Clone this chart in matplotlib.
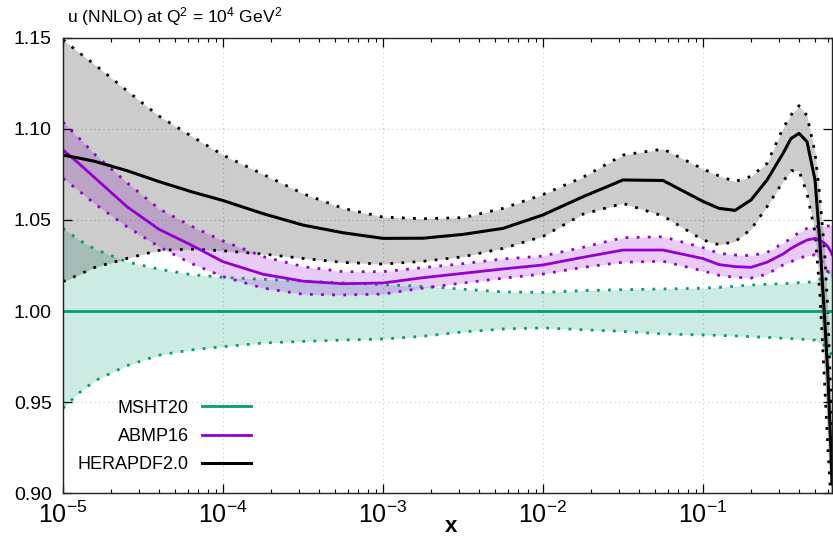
import matplotlib
matplotlib.use("Agg")
import matplotlib.pyplot as plt
import numpy as np

plt.rcParams['font.family'] = ['Liberation Sans', 'DejaVu Sans']
plt.rcParams['mathtext.fontset'] = 'custom'
plt.rcParams['mathtext.rm'] = 'Liberation Sans'
plt.rcParams['mathtext.it'] = 'Liberation Sans:italic'
plt.rcParams['axes.unicode_minus'] = False

# log10(x) sample points
log_x = [-5.0, -4.9, -4.8, -4.6, -4.4, -4.2, -4.0, -3.75, -3.5, -3.25, -3.0,
         -2.75, -2.5, -2.25, -2.0, -1.75, -1.5, -1.25, -1.0, -0.9, -0.8,
         -0.7, -0.6, -0.5, -0.45, -0.4, -0.35, -0.3, -0.27, -0.24, -0.22,
         -0.2, -0.194]

# MSHT20 (reference, ratio = 1)
msht = [1.0, 1.0, 1.0, 1.0, 1.0, 1.0, 1.0, 1.0, 1.0, 1.0, 1.0,
        1.0, 1.0, 1.0, 1.0, 1.0, 1.0, 1.0, 1.0, 1.0, 1.0,
        1.0, 1.0, 1.0, 1.0, 1.0, 1.0, 1.0, 1.0, 1.0, 1.0,
        1.0, 1.0]
msht_hi = [1.0454, 1.039, 1.034, 1.027, 1.023, 1.020, 1.0185, 1.0174, 1.0165,
           1.0155, 1.0145, 1.0135, 1.012, 1.0105, 1.0102, 1.0112, 1.0117,
           1.0121, 1.0125, 1.013, 1.0136, 1.0143, 1.0147, 1.015, 1.0153,
           1.0156, 1.0158, 1.0161, 1.0175, 1.019, 1.021, 1.023, 1.024]
msht_lo = [0.9465, 0.955, 0.9617, 0.970, 0.9757, 0.9786, 0.9804, 0.9824,
           0.9833, 0.984, 0.9846, 0.9861, 0.9885, 0.9901, 0.9907, 0.9897,
           0.9888, 0.9874, 0.9868, 0.9866, 0.9863, 0.9859, 0.9855, 0.985,
           0.9848, 0.9846, 0.9843, 0.984, 0.9825, 0.981, 0.979, 0.9765, 0.975]

# ABMP16
abmp = [1.0885, 1.081, 1.0731, 1.0573, 1.0449, 1.0363, 1.0271, 1.0202, 1.0164,
        1.015, 1.0154, 1.0183, 1.0207, 1.0231, 1.0253, 1.0295, 1.0335, 1.0335,
        1.0288, 1.0255, 1.0244, 1.024, 1.0268, 1.0313, 1.0344, 1.0368, 1.039,
        1.0399, 1.039, 1.0372, 1.0353, 1.0326, 1.031]
abmp_hi = [1.1038, 1.095, 1.0859, 1.0705, 1.0562, 1.0467, 1.0385, 1.0299,
           1.0244, 1.0216, 1.0216, 1.0238, 1.026, 1.0286, 1.0302, 1.035,
           1.0403, 1.0408, 1.0348, 1.0317, 1.0308, 1.0304, 1.0322, 1.0372,
           1.0399, 1.0432, 1.0454, 1.0463, 1.0467, 1.0467, 1.0467, 1.0467,
           1.0467]
abmp_lo = [1.0729, 1.066, 1.0588, 1.0463, 1.0353, 1.0262, 1.0189, 1.0126,
           1.0092, 1.0088, 1.0093, 1.0126, 1.0154, 1.018, 1.0203, 1.024,
           1.0268, 1.0273, 1.022, 1.0196, 1.0185, 1.0181, 1.0202, 1.0253,
           1.0271, 1.0289, 1.0304, 1.0308, 1.029, 1.0243, 1.0216, 1.018, 1.017]

# HERAPDF2.0
hera = [1.0857, 1.084, 1.0822, 1.0771, 1.0711, 1.0656, 1.0607, 1.0535, 1.0472,
        1.043, 1.0399, 1.040, 1.0421, 1.0454, 1.0528, 1.0628, 1.072, 1.0717,
        1.0602, 1.0564, 1.0553, 1.061, 1.072, 1.0866, 1.0948, 1.0976, 1.093,
        1.072, 1.038, 0.996, 0.965, 0.922, 0.905]
hera_hi = [1.149, 1.142, 1.1353, 1.121, 1.1071, 1.0962, 1.0857, 1.0751, 1.0645,
           1.0564, 1.0516, 1.0507, 1.0513, 1.0564, 1.064, 1.0735, 1.0857,
           1.089, 1.078, 1.0742, 1.0711, 1.074, 1.0811, 1.1004, 1.1077, 1.1128,
           1.1073, 1.087, 1.063, 1.032, 1.000, 0.950, 0.935]
hera_lo = [1.0161, 1.020, 1.024, 1.0289, 1.0333, 1.034, 1.0331, 1.0313, 1.0289,
           1.0267, 1.0258, 1.0273, 1.0298, 1.0344, 1.041, 1.0532, 1.0591,
           1.0522, 1.039, 1.0364, 1.0381, 1.0449, 1.0573, 1.0711, 1.0771,
           1.0769, 1.0647, 1.043, 1.010, 0.960, 0.925, 0.895, 0.875]

x = 10.0 ** np.array(log_x)

green = '#009e73'
purple = '#9400d3'
dots = (0, (1, 3))

fig = plt.figure(figsize=(8.33, 5.39), dpi=100)
ax = fig.add_axes([63 / 833, 46 / 539, 769 / 833, 455 / 539])

# bands
ax.fill_between(x, msht_lo, msht_hi, color=green, alpha=0.2, lw=0)
ax.fill_between(x, abmp_lo, abmp_hi, color=purple, alpha=0.2, lw=0)
ax.fill_between(x, hera_lo, hera_hi, color='black', alpha=0.2, lw=0)

# band edges
for lo, hi, c in [(msht_lo, msht_hi, green), (abmp_lo, abmp_hi, purple),
                  (hera_lo, hera_hi, 'black')]:
    ax.plot(x, lo, color=c, lw=2, ls=dots)
    ax.plot(x, hi, color=c, lw=2, ls=dots)

# central values
l1, = ax.plot(x, msht, color=green, lw=2, label='MSHT20')
l2, = ax.plot(x, abmp, color=purple, lw=2, label='ABMP16')
l3, = ax.plot(x, hera, color='black', lw=2.2, label='HERAPDF2.0')

ax.set_xscale('log')
ax.set_xlim(1e-5, 10 ** -0.194)
ax.set_ylim(0.90, 1.15)
ax.set_yticks([0.90, 0.95, 1.00, 1.05, 1.10, 1.15])
ax.yaxis.set_major_formatter(matplotlib.ticker.FormatStrFormatter('%.2f'))
ax.yaxis.set_minor_locator(matplotlib.ticker.NullLocator())

ax.tick_params(which='both', direction='in', top=True, right=True)
ax.tick_params(which='major', length=6.5, width=0.9)
ax.tick_params(which='minor', length=3.2, width=0.8)
ax.tick_params(axis='x', which='major', labelsize=18, pad=6)
ax.tick_params(axis='y', which='major', labelsize=14, pad=8)

ax.grid(True, which='major', color='#c8c8c8', ls=(0, (1, 3)), lw=0.8)
ax.set_axisbelow(True)
for sp in ax.spines.values():
    sp.set_linewidth(1.0)
    sp.set_color('#222222')

ax.set_xlabel('x', fontsize=16, fontweight='bold')
ax.xaxis.set_label_coords(0.505, -0.086)
ax.xaxis.label.set_verticalalignment('baseline')

ax.legend(handles=[l1, l2, l3], loc='upper right', bbox_to_anchor=(0.2445, 0.205),
          markerfirst=False, frameon=False, fontsize=13, handlelength=2.7,
          handletextpad=0.75, labelspacing=0.62, borderaxespad=0, borderpad=0)

fig.text(67 / 833, 1 - 17 / 539, 'u (NNLO) at Q$^2$ = 10$^4$ GeV$^2$',
         fontsize=12.6, va='center', ha='left')

fig.savefig('out.png', dpi=100)
